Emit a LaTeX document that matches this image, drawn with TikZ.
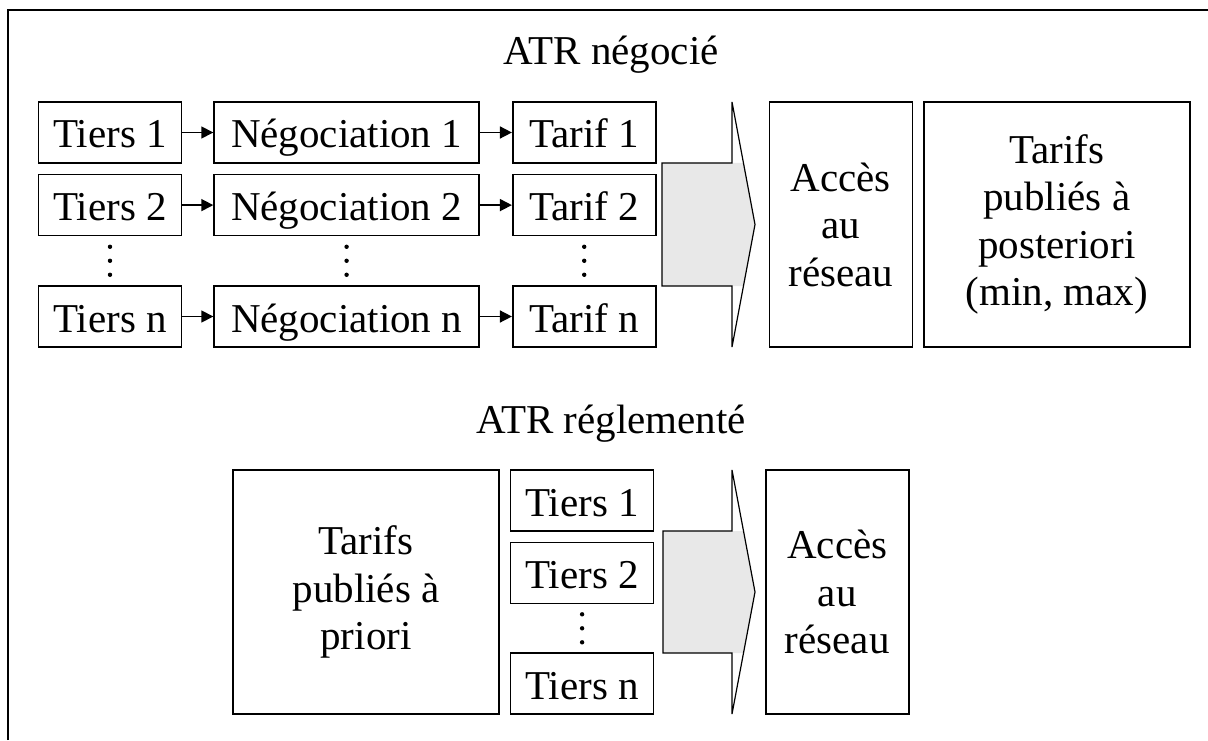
\documentclass[tikz,border=0pt]{standalone}
\usepackage{fontspec}
\setmainfont{Liberation Serif}
\usetikzlibrary{arrows.meta,positioning,calc}

\begin{document}
\begin{tikzpicture}[x=1pt,y=1pt,>={Triangle[length=6pt,width=6pt]},line width=0.8pt,
    every node/.style={font=\fontsize{20.5}{23.75}\selectfont},
    box/.style={draw,rectangle,inner sep=0pt,minimum height=30.5pt,align=center},
    line box/.style={box,text height=19.5pt,text depth=4pt},
    small box/.style={line box,minimum width=71.5pt},
    wide box/.style={box,minimum width=133pt},
    tall box/.style={box,minimum width=71.5pt,minimum height=122.5pt},
    big arrow/.style={line width=0.6pt,line join=miter}]
    \useasboundingbox (0,0) rectangle (604,370);
    \draw (4,0) -- (4,365) -- (604,365);

    % ATR négocié
    \node[anchor=base] (titre1) at (305.5,337.5) {ATR négocié};
    \node[small box] (t1) at (55,303.75) {Tiers 1};
    \node[small box, below=5pt of t1] (t2) {Tiers 2};
    \node[small box] (tn) at (55,211.75) {Tiers n};
    \foreach \r in {1,2,n} {
        \node[line box, minimum width=132.5pt, right=15.5pt of t\r] (n\r) {Négociation \r};
        \node[small box, right=16pt of n\r] (f\r) {Tarif \r};
        \draw[->] (t\r) -- (n\r);
        \draw[->] (n\r) -- (f\r);
    }
    \coordinate (d1) at ($(t2.south)!.5!(tn.north)$);
    \coordinate (d2) at ($(n2.south)!.5!(nn.north)$);
    \coordinate (d3) at ($(f2.south)!.5!(fn.north)$);

    \fill[black!9] (331,288.5) -- (371.7,288.5) -- (377.5,257.75) -- (371.7,227) -- (331,227) -- cycle;
    \draw[big arrow] (331,288.5) -- (366,288.5) -- (366,319) -- (377.5,257.75)
        -- (366,196.5) -- (366,227) -- (331,227) -- cycle;

    \node[tall box, anchor=north west] (acces1) at ([xshift=56pt]f1.north east) {Accès\\au\\réseau};
    \node[wide box, minimum height=122.5pt, right=5pt of acces1] (post) {Tarifs\\publiés à\\posteriori\\(min, max)};

    % ATR réglementé
    \node[anchor=base] (titre2) at (305.5,153.5) {ATR réglementé};
    \node[wide box, minimum height=122pt] (prior) at (183,74) {Tarifs\\publiés à\\priori};
    \node[small box, anchor=north west] (b1) at ([xshift=5pt]prior.north east) {Tiers 1};
    \node[small box, below=5pt of b1] (b2) {Tiers 2};
    \node[small box, anchor=south west] (bn) at ([xshift=5pt]prior.south east) {Tiers n};
    \coordinate (d4) at ($(b2.south)!.5!(bn.north)$);

    \fill[black!9] (331.5,104.5) -- (371.7,104.5) -- (377.5,74) -- (371.7,43.5) -- (331.5,43.5) -- cycle;
    \draw[big arrow] (331.5,104.5) -- (366,104.5) -- (366,135) -- (377.5,74)
        -- (366,13) -- (366,43.5) -- (331.5,43.5) -- cycle;

    \node[tall box, minimum height=122pt, anchor=west] (acces2) at (382.5,74) {Accès\\au\\réseau};

    % vertical dots
    \foreach \d in {d1,d2,d3,d4}
        \foreach \dy in {-7,0,7}
            \fill ([yshift=\dy pt]\d) circle (1.1pt);
\end{tikzpicture}
\end{document}
